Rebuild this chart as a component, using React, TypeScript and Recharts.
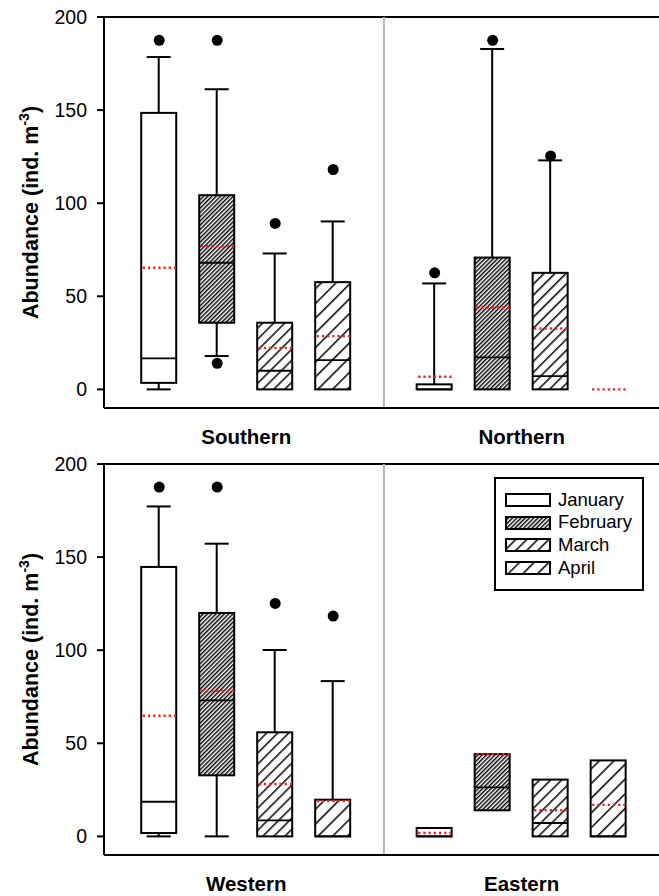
import React from "react";
import { ComposedChart, Bar, Scatter, XAxis, YAxis, ReferenceLine, Legend } from "recharts";

const FONT = '"Liberation Sans", Arial, Helvetica, sans-serif';

const MONTHS = ["January", "February", "March", "April"];
const TOP_REGIONS = ["Southern", "Northern"];
const BOTTOM_REGIONS = ["Western", "Eastern"];
const Y_TICKS = [0, 50, 100, 150, 200];

// Southern
const southernWhiskerLow = [0, 17.9, 0, 0];
const southernQ1 = [3.5, 35.8, 0, 0];
const southernMedian = [16.6, 68, 10, 15.7];
const southernQ3 = [148.5, 104.3, 35.8, 57.6];
const southernWhiskerHigh = [178.5, 161.2, 73, 90.2];
const southernMean = [65.3, 76.9, 22.3, 28.6];
const southernOutliers = [[187.5], [187.5, 14], [89.1], [118.1]];

// Northern
const northernWhiskerLow = [0, 0, 0, 0];
const northernQ1 = [0, 0, 0, 0];
const northernMedian = [0, 17.2, 7.1, 0];
const northernQ3 = [2.7, 70.8, 62.6, 0];
const northernWhiskerHigh = [56.9, 182.8, 123, 0];
const northernMean = [6.8, 44, 32.7, 0];
const northernOutliers = [[62.6], [187.5], [125.4], []];

// Western
const westernWhiskerLow = [0, 0, 0, 0];
const westernQ1 = [1.8, 32.8, 0, 0];
const westernMedian = [18.6, 73, 8.6, 0];
const westernQ3 = [144.7, 120, 55.9, 19.7];
const westernWhiskerHigh = [177.2, 157.2, 100.1, 83.4];
const westernMean = [64.8, 78.1, 28.1, 19];
const westernOutliers = [[187.6], [187.6], [125.1], [118.3]];

// Eastern
const easternWhiskerLow = [0, 14, 0, 0];
const easternQ1 = [0, 14, 0, 0];
const easternMedian = [0, 26.3, 7.2, 0];
const easternQ3 = [4.5, 44.2, 30.5, 40.8];
const easternWhiskerHigh = [4.5, 44.2, 30.5, 40.8];
const easternMean = [1.8, 44.2, 14, 16.9];
const easternOutliers: number[][] = [[], [], [], []];

type Stats = {
  low: number[]; q1: number[]; med: number[]; q3: number[]; high: number[]; mean: number[]; out: number[][];
};

const SOUTHERN: Stats = { low: southernWhiskerLow, q1: southernQ1, med: southernMedian, q3: southernQ3, high: southernWhiskerHigh, mean: southernMean, out: southernOutliers };
const NORTHERN: Stats = { low: northernWhiskerLow, q1: northernQ1, med: northernMedian, q3: northernQ3, high: northernWhiskerHigh, mean: northernMean, out: northernOutliers };
const WESTERN: Stats = { low: westernWhiskerLow, q1: westernQ1, med: westernMedian, q3: westernQ3, high: westernWhiskerHigh, mean: westernMean, out: westernOutliers };
const EASTERN: Stats = { low: easternWhiskerLow, q1: easternQ1, med: easternMedian, q3: easternQ3, high: easternWhiskerHigh, mean: easternMean, out: easternOutliers };

const GROUP_STEP = 4.75;
const X_DOMAIN: [number, number] = [0.048, 9.67];
const Y_DOMAIN: [number, number] = [-10, 200];
const DIVIDER = (4 + 1 + GROUP_STEP) / 2;
const GROUP_CENTERS = [2.5, 2.5 + GROUP_STEP];
const BOX_W = 35;
const CAP_W = 24;

const slotX = (g: number, m: number) => g * GROUP_STEP + m + 1;

function buildRows(stats: Stats[]) {
  return stats.flatMap((s, g) =>
    MONTHS.map((_, m) => ({
      x: slotX(g, m),
      month: m,
      low: s.low[m],
      q1: s.q1[m],
      med: s.med[m],
      q3: s.q3[m],
      high: s.high[m],
      mean: s.mean[m],
    }))
  );
}

function buildOutliers(stats: Stats[]) {
  return stats.flatMap((s, g) =>
    s.out.flatMap((vals, m) => vals.map((v) => ({ x: slotX(g, m), y: v })))
  );
}

const FILLS = ["#ffffff", "url(#hatch-feb)", "url(#hatch-mar)", "url(#hatch-apr)"];

const Patterns = () => (
  <svg width={0} height={0} style={{ position: "absolute" }}>
    <defs>
      <pattern id="hatch-feb" patternUnits="userSpaceOnUse" width={3} height={3} patternTransform="rotate(45)">
        <rect x={0} y={0} width={3} height={3} fill="#ffffff" />
        <line x1={0.7} y1={0} x2={0.7} y2={3} stroke="#000" strokeWidth={1.5} />
      </pattern>
      <pattern id="hatch-mar" patternUnits="userSpaceOnUse" width={7.8} height={7.8} patternTransform="rotate(45)">
        <rect x={0} y={0} width={7.8} height={7.8} fill="#ffffff" />
        <line x1={0.8} y1={0} x2={0.8} y2={7.8} stroke="#000" strokeWidth={1.5} />
      </pattern>
      <pattern id="hatch-apr" patternUnits="userSpaceOnUse" width={10.4} height={10.4} patternTransform="rotate(45)">
        <rect x={0} y={0} width={10.4} height={10.4} fill="#ffffff" />
        <line x1={0.8} y1={0} x2={0.8} y2={10.4} stroke="#000" strokeWidth={1.5} />
      </pattern>
    </defs>
  </svg>
);

const BoxShape = (p: any) => {
  const { x, y, width, height, payload } = p;
  if (!(height > 0.5)) return <g />;
  return (
    <rect x={x} y={y} width={width} height={height} fill={FILLS[payload.month]} stroke="#000" strokeWidth={2} />
  );
};

const UpperWhisker = (p: any) => {
  const { x, y, width, height } = p;
  if (!(height > 0.5)) return <g />;
  const cx = x + width / 2;
  return (
    <g>
      <line x1={cx} x2={cx} y1={y} y2={y + height} stroke="#000" strokeWidth={2} />
      <line x1={cx - CAP_W / 2} x2={cx + CAP_W / 2} y1={y} y2={y} stroke="#000" strokeWidth={2} />
    </g>
  );
};

const LowerWhisker = (p: any) => {
  const { x, y, width, height } = p;
  if (!(height > 0.5)) return <g />;
  const cx = x + width / 2;
  return (
    <g>
      <line x1={cx} x2={cx} y1={y} y2={y + height} stroke="#000" strokeWidth={2} />
      <line x1={cx - CAP_W / 2} x2={cx + CAP_W / 2} y1={y + height} y2={y + height} stroke="#000" strokeWidth={2} />
    </g>
  );
};

const MedianShape = (p: any) => {
  const { cx, cy, payload } = p;
  if (!(payload.q3 > payload.q1)) return <g />;
  return <line x1={cx - BOX_W / 2} x2={cx + BOX_W / 2} y1={cy} y2={cy} stroke="#000" strokeWidth={1.8} />;
};

const MeanShape = (p: any) => {
  const { cx, cy } = p;
  return (
    <line x1={cx - BOX_W / 2 + 1} x2={cx + BOX_W / 2} y1={cy} y2={cy} stroke="#ff1a1a" strokeWidth={2.4} strokeDasharray="2.2 3" />
  );
};

const OutlierShape = (p: any) => <circle cx={p.cx} cy={p.cy} r={5.5} fill="#000" />;

const YTick = (p: any) => (
  <text x={p.x} y={p.y} dy="0.36em" textAnchor="end" fontFamily={FONT} fontSize={19.5} fill="#000">
    {p.payload.value}
  </text>
);

const YLabel = (props: any) => {
  const vb = props.viewBox || { x: 0, y: 17, width: 104, height: 391 };
  const cx = vb.x + 38;
  const cy = vb.y + vb.height / 2;
  return (
    <text x={cx} y={cy} transform={`rotate(-90 ${cx} ${cy})`} textAnchor="middle" fontFamily={FONT} fontWeight="bold" fontSize={21.5} fill="#000">
      Abundance (ind. m<tspan dy={-9} fontSize={14}>-3</tspan><tspan dy={9}>)</tspan>
    </text>
  );
};

const LegendBox = () => (
  <div
    style={{
      border: "2px solid #000",
      background: "#fff",
      boxSizing: "border-box",
      width: 150,
      height: 114,
      paddingTop: 9.6,
      paddingLeft: 9,
      fontFamily: FONT,
      fontSize: 18.5,
      color: "#000",
    }}
  >
    {MONTHS.map((m, i) => (
      <div key={m} style={{ display: "flex", alignItems: "center", height: 22.7, lineHeight: "22.7px" }}>
        <svg width={46} height={14} style={{ display: "block" }}>
          <rect x={1} y={1} width={44} height={12} fill={FILLS[i]} stroke="#000" strokeWidth={2} />
        </svg>
        <span style={{ marginLeft: 7 }}>{m}</span>
      </div>
    ))}
  </div>
);

function Panel({ regions, stats, showLegend }: { regions: string[]; stats: Stats[]; showLegend: boolean }) {
  const rows = buildRows(stats);
  const outliers = buildOutliers(stats);
  const GroupTick = (p: any) => (
    <text x={p.x} y={p.y + 36} textAnchor="middle" fontFamily={FONT} fontWeight="bold" fontSize={20.5} fill="#000">
      {regions[p.index]}
    </text>
  );
  return (
    <ComposedChart width={666} height={447} data={rows} margin={{ top: 17, right: 4, bottom: 0, left: 0 }}>
      <XAxis
        xAxisId="box"
        dataKey="x"
        type="number"
        domain={X_DOMAIN}
        allowDataOverflow
        ticks={GROUP_CENTERS}
        interval={0}
        tickLine={false}
        tickSize={0}
        tickMargin={0}
        height={39}
        axisLine={{ stroke: "#000", strokeWidth: 2 }}
        tick={GroupTick}
      />
      <XAxis xAxisId="up" dataKey="x" type="number" domain={X_DOMAIN} allowDataOverflow hide />
      <XAxis xAxisId="lo" dataKey="x" type="number" domain={X_DOMAIN} allowDataOverflow hide />
      <YAxis
        type="number"
        domain={Y_DOMAIN}
        allowDataOverflow
        ticks={Y_TICKS}
        interval={0}
        width={104}
        tickSize={7}
        tickMargin={10}
        tickLine={{ stroke: "#000", strokeWidth: 2 }}
        axisLine={{ stroke: "#000", strokeWidth: 2 }}
        tick={YTick}
        label={{ content: YLabel }}
      />
      <ReferenceLine xAxisId="box" y={200} stroke="#000" strokeWidth={2} />
      <ReferenceLine xAxisId="box" x={DIVIDER} stroke="#b4b4b4" strokeWidth={2} />
      <Bar xAxisId="up" dataKey={(d: any) => [d.q3, d.high]} barSize={BOX_W} shape={UpperWhisker} isAnimationActive={false} />
      <Bar xAxisId="lo" dataKey={(d: any) => [d.low, d.q1]} barSize={BOX_W} shape={LowerWhisker} isAnimationActive={false} />
      <Bar xAxisId="box" dataKey={(d: any) => [d.q1, d.q3]} barSize={BOX_W} shape={BoxShape} isAnimationActive={false} />
      <Scatter xAxisId="box" dataKey="med" shape={MedianShape} isAnimationActive={false} />
      <Scatter xAxisId="box" dataKey="mean" shape={MeanShape} isAnimationActive={false} />
      <Scatter xAxisId="box" data={outliers} dataKey="y" shape={OutlierShape} isAnimationActive={false} />
      {showLegend && (
        <Legend
          layout="vertical"
          align="center"
          verticalAlign="middle"
          wrapperStyle={{ left: 494, top: 30, width: 150, height: 114 }}
          content={LegendBox}
        />
      )}
    </ComposedChart>
  );
}

export default function App() {
  return (
    <div style={{ position: "absolute", left: 0, top: 0, width: 659, height: 896, overflow: "hidden", background: "#fff" }}>
      <Patterns />
      <div style={{ position: "absolute", left: 0, top: 0 }}>
        <Panel regions={TOP_REGIONS} stats={[SOUTHERN, NORTHERN]} showLegend={false} />
      </div>
      <div style={{ position: "absolute", left: 0, top: 447 }}>
        <Panel regions={BOTTOM_REGIONS} stats={[WESTERN, EASTERN]} showLegend={true} />
      </div>
    </div>
  );
}
